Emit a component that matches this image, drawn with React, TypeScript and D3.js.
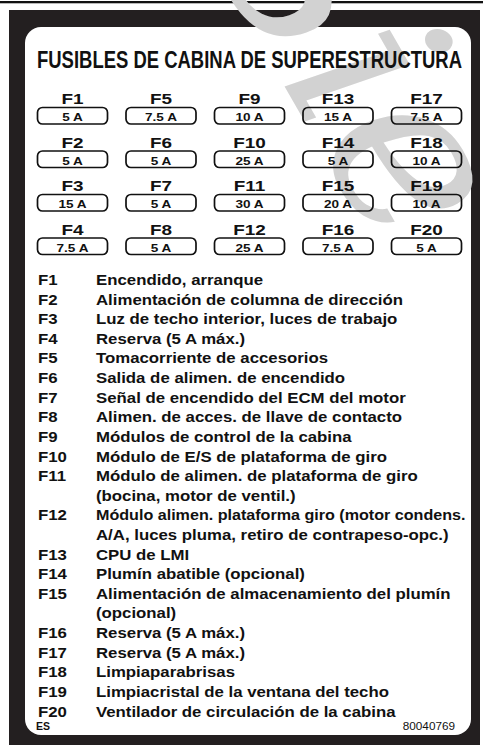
import * as d3 from "d3";
import { useEffect, useRef } from "react";

// fuse grid: 5 columns x 4 rows, read top-down per column
const fuseIds = [
  "F1", "F2", "F3", "F4", "F5", "F6", "F7", "F8", "F9", "F10",
  "F11", "F12", "F13", "F14", "F15", "F16", "F17", "F18", "F19", "F20",
];
const fuseAmps = [
  "5 A", "5 A", "15 A", "7.5 A",
  "7.5 A", "5 A", "5 A", "5 A",
  "10 A", "25 A", "30 A", "25 A",
  "15 A", "5 A", "20 A", "7.5 A",
  "7.5 A", "10 A", "10 A", "5 A",
];
const descCodes = fuseIds;
const descLines = [
  ["Encendido, arranque"],
  ["Alimentación de columna de dirección"],
  ["Luz de techo interior, luces de trabajo"],
  ["Reserva (5 A máx.)"],
  ["Tomacorriente de accesorios"],
  ["Salida de alimen. de encendido"],
  ["Señal de encendido del ECM del motor"],
  ["Alimen. de acces. de llave de contacto"],
  ["Módulos de control de la cabina"],
  ["Módulo de E/S de plataforma de giro"],
  ["Módulo de alimen. de plataforma de giro", "(bocina, motor de ventil.)"],
  ["Módulo alimen. plataforma giro (motor condens.", "A/A, luces pluma, retiro de contrapeso-opc.)"],
  ["CPU de LMI"],
  ["Plumín abatible (opcional)"],
  ["Alimentación de almacenamiento del plumín", "(opcional)"],
  ["Reserva (5 A máx.)"],
  ["Reserva (5 A máx.)"],
  ["Limpiaparabrisas"],
  ["Limpiacristal de la ventana del techo"],
  ["Ventilador de circulación de la cabina"],
];
const title = "FUSIBLES DE CABINA DE SUPERESTRUCTURA";
const langCode = "ES";
const partNumber = "80040769";
const watermark = "Sie";

const W = 483, H = 745;
const FONT = "'Liberation Sans', Arial, Helvetica, sans-serif";

const App = () => {
  const ref = useRef<SVGSVGElement>(null);

  useEffect(() => {
    const svg = d3.select(ref.current);
    svg.selectAll("*").remove();

    // frame
    svg.append("rect").attr("x", 0).attr("y", 1).attr("width", W).attr("height", 2.3).attr("fill", "#111");
    svg.append("rect").attr("x", 9).attr("y", 10).attr("width", 471).attr("height", H - 10).attr("fill", "#231f20");
    svg.append("rect").attr("x", 25).attr("y", 27).attr("width", 446).attr("height", 708)
      .attr("rx", 16).attr("fill", "#fff");

    // faint watermark, clipped to the sheet
    svg.append("clipPath").attr("id", "sheet")
      .append("rect").attr("x", 0).attr("y", 0).attr("width", W).attr("height", H);
    svg.append("g").attr("clip-path", "url(#sheet)")
      .append("text")
      .attr("transform", "translate(200,-60) rotate(60)")
      .attr("font-family", "'DejaVu Serif', serif")
      .attr("font-style", "italic")
      .attr("font-size", 230)
      .attr("fill", "#d2d2d2")
      .text(watermark);

    // title
    svg.append("text")
      .attr("x", 37).attr("y", 68.3)
      .attr("font-family", "'Liberation Sans Narrow', " + FONT)
      .attr("font-weight", "bold").attr("font-size", 23)
      .attr("textLength", 425).attr("lengthAdjust", "spacingAndGlyphs")
      .attr("fill", "#111")
      .text(title);

    // grid scales
    const col = d3.scaleLinear().domain([0, 4]).range([72.5, 426.5]);
    const row = d3.scaleLinear().domain([0, 3]).range([107.5, 238]);
    const boxW = 70, boxH = 16.5;

    const cells = fuseIds.map((id, i) => ({ id, amp: fuseAmps[i], c: Math.floor(i / 4), r: i % 4 }));
    const g = svg.append("g").selectAll("g").data(cells).enter().append("g");

    g.append("text")
      .attr("transform", d => `translate(${col(d.c)},${row(d.r) - 3.4}) scale(1.22,1)`)
      .attr("text-anchor", "middle")
      .attr("font-family", FONT).attr("font-weight", "bold").attr("font-size", 15.5)
      .attr("fill", "#111")
      .text(d => d.id);

    g.append("rect")
      .attr("x", d => col(d.c) - boxW / 2)
      .attr("y", d => row(d.r))
      .attr("width", boxW).attr("height", boxH)
      .attr("rx", 5)
      .attr("fill", "none").attr("stroke", "#111").attr("stroke-width", 1.7);

    g.append("text")
      .attr("transform", d => `translate(${col(d.c)},${row(d.r) + 13.6}) scale(1.18,1)`)
      .attr("text-anchor", "middle")
      .attr("font-family", FONT).attr("font-weight", "bold").attr("font-size", 11.5)
      .attr("fill", "#111")
      .text(d => d.amp);

    // description list
    const lines: { code: string; text: string }[] = [];
    descCodes.forEach((code, i) => {
      descLines[i].forEach((t, j) => lines.push({ code: j === 0 ? code : "", text: t }));
    });
    const ly = d3.scaleLinear().domain([0, lines.length - 1]).range([285, 716.5]);
    const textX = 96, maxW = 370;
    const lg = svg.append("g").selectAll("g").data(lines).enter().append("g")
      .attr("font-family", FONT).attr("font-weight", "bold").attr("font-size", 14).attr("fill", "#111");
    lg.append("text")
      .attr("transform", (d, i) => `translate(38,${ly(i)}) scale(1.2,1)`)
      .text(d => d.code);
    lg.append("text")
      .text(d => d.text)
      .attr("transform", function (d, i) {
        const len = (this as SVGTextElement).getComputedTextLength();
        const sx = Math.min(1.2, maxW / len);
        return `translate(${textX},${ly(i)}) scale(${sx},1)`;
      });

    // footer
    svg.append("text")
      .attr("x", 36).attr("y", 730)
      .attr("font-family", FONT).attr("font-weight", "bold").attr("font-size", 10.5)
      .attr("fill", "#111").text(langCode);
    svg.append("text")
      .attr("transform", "translate(455,730) scale(1.12,1)")
      .attr("text-anchor", "end")
      .attr("font-family", FONT).attr("font-size", 10.5)
      .attr("fill", "#111").text(partNumber);
  }, []);

  return (
    <svg ref={ref} width={W} height={H} viewBox={`0 0 ${W} ${H}`}
      style={{ position: "absolute", left: 0, top: 0, background: "#fff" }} />
  );
};

export default App;
